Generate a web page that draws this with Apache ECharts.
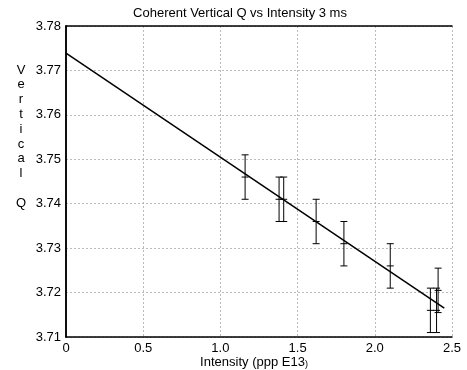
<!DOCTYPE html>
<html><head><meta charset="utf-8">
<script src="https://cdn.jsdelivr.net/npm/echarts@6/dist/echarts.min.js"></script>
<style>html,body{margin:0;padding:0;background:#fff}#c{width:467px;height:370px}</style>
</head><body><div id="c"></div>
<script>
const xTicks = [0, 0.5, 1.0, 1.5, 2.0, 2.5];
const yTicks = [3.71, 3.72, 3.73, 3.74, 3.75, 3.76, 3.77, 3.78];
const intensity = [1.16, 1.38, 1.41, 1.62, 1.80, 2.10, 2.36, 2.40, 2.41];
const qValues   = [3.746, 3.741, 3.741, 3.736, 3.731, 3.726, 3.716, 3.716, 3.7205];
const qErrors   = [0.005, 0.005, 0.005, 0.005, 0.005, 0.005, 0.005, 0.005, 0.005];
const fitX = [0, 2.45];
const fitY = [3.7739, 3.7165];

const FONT = '"Liberation Sans", Arial, sans-serif';
const chart = echarts.init(document.getElementById('c'), null, {renderer:'canvas'});
const errData = intensity.map((x,i)=>[x, qValues[i], qValues[i]-qErrors[i], qValues[i]+qErrors[i]]);
const axLine = {show:true, lineStyle:{color:'#000', width:1.5}};
chart.setOption({
  animation:false,
  backgroundColor:'#fff',
  grid:{left:66, right:15, top:26, bottom:33, containLabel:false},
  xAxis:[{type:'value', min:0, max:2.5, interval:0.5, position:'bottom',
    axisLine:axLine, axisTick:{show:false},
    axisLabel:{color:'#000', fontFamily:FONT, fontSize:13, margin:5,
      formatter:v=>v===0?'0':v.toFixed(1)},
    splitLine:{show:true, lineStyle:{color:'#aaa', width:0.8, type:[2,2]}}},
   {type:'value', min:0, max:2.5, interval:0.5, position:'top',
    axisLine:axLine, axisTick:{show:false}, axisLabel:{show:false}, splitLine:{show:false}}],
  yAxis:[{type:'value', min:3.71, max:3.78, interval:0.01, position:'left',
    axisLine:axLine, axisTick:{show:false},
    axisLabel:{color:'#000', fontFamily:FONT, fontSize:13, margin:5, formatter:v=>v.toFixed(2)},
    splitLine:{show:true, lineStyle:{color:'#aaa', width:0.8, type:[2,2]}}},
   {type:'value', min:3.71, max:3.78, interval:0.01, position:'right',
    axisLine:axLine, axisTick:{show:false}, axisLabel:{show:false}, splitLine:{show:false}}],
  graphic:[
    {type:'text', x:240, y:7, style:{text:'Coherent Vertical Q vs Intensity 3 ms', font:'13px '+FONT, fill:'#000', textAlign:'center'}},
    {type:'text', x:21, y:62.6, style:{text:'V\ne\nr\nt\ni\nc\na\nl\n\nQ', font:'13px '+FONT, fill:'#000', textAlign:'center', lineHeight:14.8}},
    {type:'text', x:254, y:356, style:{text:'{a|Intensity (ppp E13}{b|)}', textAlign:'center',
      rich:{a:{font:'13px '+FONT, fill:'#000'}, b:{font:'9px '+FONT, fill:'#000', verticalAlign:'bottom'}}}}
  ],
  series:[
    {type:'line', data:fitX.map((x,i)=>[x,fitY[i]]), symbol:'none', lineStyle:{color:'#000', width:1.5}, z:3},
    {type:'custom', data:errData, z:4,
     renderItem:(params, api)=>{
       const x=api.value(0), y=api.value(1), lo=api.value(2), hi=api.value(3);
       const c=api.coord([x,y]), l=api.coord([x,lo]), h=api.coord([x,hi]);
       const w=3.5;
       const st={stroke:'#000', lineWidth:1};
       return {type:'group', children:[
         {type:'line', shape:{x1:h[0],y1:h[1],x2:l[0],y2:l[1]}, style:st},
         {type:'line', shape:{x1:h[0]-w,y1:h[1],x2:h[0]+w,y2:h[1]}, style:st},
         {type:'line', shape:{x1:l[0]-w,y1:l[1],x2:l[0]+w,y2:l[1]}, style:st},
         {type:'line', shape:{x1:c[0]-w,y1:c[1],x2:c[0]+w,y2:c[1]}, style:st}
       ]};
     }}
  ]
});
</script></body></html>
